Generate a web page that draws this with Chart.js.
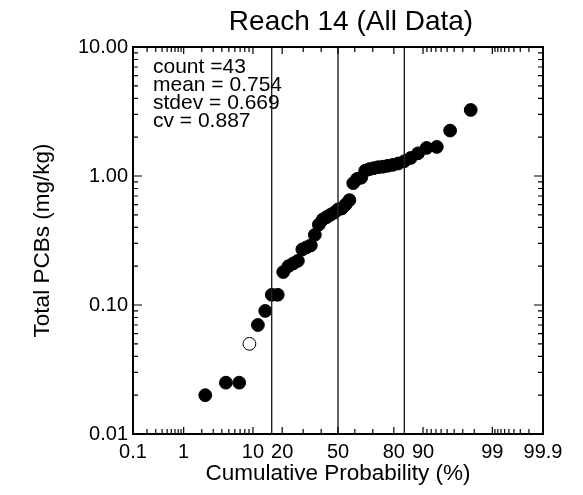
<!DOCTYPE html>
<html>
<head>
<meta charset="utf-8">
<script src="https://cdn.jsdelivr.net/npm/chart.js@4.4.1/dist/chart.umd.min.js"></script>
<style>
  body { margin: 0; background: #fff; }
  canvas { display: block; }
</style>
</head>
<body>
<canvas id="probChart" width="583" height="495"></canvas>
<script>
// plotting positions (%) for the 43 ranked samples
var cumProb = [2.27, 4.55, 6.82, 9.09, 11.36, 13.64, 15.91, 18.18, 20.45, 22.73,
    25.00, 27.27, 29.55, 31.82, 34.09, 36.36, 38.64, 40.91, 43.18, 45.45,
    47.73, 50.00, 52.27, 54.55, 56.82, 59.09, 61.36, 63.64, 65.91, 68.18,
    70.45, 72.73, 75.00, 77.27, 79.55, 81.82, 84.09, 86.36, 88.64, 90.91,
    93.18, 95.45, 97.73];
// total PCBs, mg/kg
var pcbs = [0.020, 0.025, 0.025, 0.050, 0.070, 0.090, 0.120, 0.120, 0.180, 0.200,
    0.210, 0.220, 0.270, 0.280, 0.290, 0.350, 0.420, 0.460, 0.480, 0.500,
    0.520, 0.550, 0.560, 0.600, 0.650, 0.880, 0.950, 0.970, 1.100, 1.130,
    1.150, 1.170, 1.180, 1.200, 1.220, 1.250, 1.300, 1.380, 1.500, 1.650,
    1.680, 2.250, 3.250];
// 1 = detected (filled), 0 = non-detect (open)
var detected = [1, 1, 1, 0, 1, 1, 1, 1, 1, 1, 1, 1, 1, 1, 1, 1, 1, 1, 1, 1, 1, 1,
    1, 1, 1, 1, 1, 1, 1, 1, 1, 1, 1, 1, 1, 1, 1, 1, 1, 1, 1, 1, 1];

var titleText = 'Reach 14 (All Data)';
var statLines = ['count =43', 'mean = 0.754', 'stdev = 0.669', 'cv = 0.887'];
var refLines = [15.87, 50, 84.13];

var xMajor = [0.1, 1, 10, 20, 50, 80, 90, 99, 99.9];
var xMinor = [0.2, 0.3, 0.4, 0.5, 0.6, 0.7, 0.8, 0.9, 2, 3, 4, 5, 6, 7, 8, 9,
    30, 40, 60, 70, 91, 92, 93, 94, 95, 96, 97, 98,
    99.1, 99.2, 99.3, 99.4, 99.5, 99.6, 99.7, 99.8];
var yMajor = [0.01, 0.1, 1, 10];
var yMinor = [0.02, 0.03, 0.04, 0.05, 0.06, 0.07, 0.08, 0.09,
    0.2, 0.3, 0.4, 0.5, 0.6, 0.7, 0.8, 0.9,
    2, 3, 4, 5, 6, 7, 8, 9];

// inverse normal cdf (Acklam)
function probit(p) {
    var a = [-3.969683028665376e+01, 2.209460984245205e+02, -2.759285104469687e+02,
        1.383577518672690e+02, -3.066479806614716e+01, 2.506628277459239e+00];
    var b = [-5.447609879822406e+01, 1.615858368580409e+02, -1.556989798598866e+02,
        6.680131188771972e+01, -1.328068155288572e+01];
    var c = [-7.784894002430293e-03, -3.223964580411365e-01, -2.400758277161838e+00,
        -2.549732539343734e+00, 4.374664141464968e+00, 2.938163982698783e+00];
    var d = [7.784695709041462e-03, 3.224671290700398e-01, 2.445134137142996e+00,
        3.754408661907416e+00];
    var q, r;
    if (p < 0.02425) {
        q = Math.sqrt(-2 * Math.log(p));
        return (((((c[0] * q + c[1]) * q + c[2]) * q + c[3]) * q + c[4]) * q + c[5]) /
            ((((d[0] * q + d[1]) * q + d[2]) * q + d[3]) * q + 1);
    }
    if (p > 1 - 0.02425) {
        q = Math.sqrt(-2 * Math.log(1 - p));
        return -(((((c[0] * q + c[1]) * q + c[2]) * q + c[3]) * q + c[4]) * q + c[5]) /
            ((((d[0] * q + d[1]) * q + d[2]) * q + d[3]) * q + 1);
    }
    q = p - 0.5;
    r = q * q;
    return (((((a[0] * r + a[1]) * r + a[2]) * r + a[3]) * r + a[4]) * r + a[5]) * q /
        (((((b[0] * r + b[1]) * r + b[2]) * r + b[3]) * r + b[4]) * r + 1);
}

// normal-probability axis, values in percent
class ProbitScale extends Chart.Scale {
    determineDataLimits() {
        this.min = this.options.min;
        this.max = this.options.max;
    }
    buildTicks() {
        return xMajor.map((v) => ({ value: v }));
    }
    configure() {
        super.configure();
        this._z0 = probit(this.min / 100);
        this._z1 = probit(this.max / 100);
    }
    getPixelForValue(v) {
        return this.getPixelForDecimal((probit(v / 100) - this._z0) / (this._z1 - this._z0));
    }
    getValueForPixel(px) {
        return null;
    }
    getLabelForValue(v) {
        return String(v);
    }
}
ProbitScale.id = 'probit';
ProbitScale.defaults = {};
Chart.register(ProbitScale);

const FONT = "'Liberation Sans', Arial, sans-serif";

const frameTicks = {
    id: 'frameTicks',
    afterDatasetsDraw(chart) {
        const ctx = chart.ctx;
        const a = chart.chartArea;
        const xs = chart.scales.x, ys = chart.scales.y;
        ctx.save();
        ctx.strokeStyle = '#000';
        ctx.lineWidth = 1.2;
        ctx.beginPath();
        const xt = (v, len) => {
            const px = xs.getPixelForValue(v);
            ctx.moveTo(px, a.bottom); ctx.lineTo(px, a.bottom - len);
            ctx.moveTo(px, a.top); ctx.lineTo(px, a.top + len);
        };
        const yt = (v, len) => {
            const py = ys.getPixelForValue(v);
            ctx.moveTo(a.left, py); ctx.lineTo(a.left + len, py);
            ctx.moveTo(a.right, py); ctx.lineTo(a.right - len, py);
        };
        xMajor.forEach((v) => xt(v, 7));
        xMinor.forEach((v) => xt(v, 5));
        yMajor.forEach((v) => yt(v, 9));
        yMinor.forEach((v) => yt(v, 5));
        ctx.stroke();
        ctx.lineWidth = 2;
        ctx.strokeRect(a.left, a.top, a.right - a.left, a.bottom - a.top);

        ctx.fillStyle = '#000';
        ctx.textBaseline = 'middle';
        ctx.textAlign = 'center';
        ctx.font = '28px ' + FONT;
        ctx.fillText(titleText, 351, 22);

        ctx.textAlign = 'left';
        ctx.font = '21px ' + FONT;
        statLines.forEach((s, i) => {
            ctx.fillText(s, a.left + 20, a.top + 20 + i * 18);
        });
        ctx.restore();
    }
};

const refData = refLines.map((p) => ({
    data: [{ x: p, y: 0.01 }, { x: p, y: 10 }],
    showLine: true,
    borderColor: '#222',
    borderWidth: 1.4,
    pointRadius: 0
}));

var ctx = document.getElementById('probChart').getContext('2d');
var probChart = new Chart(ctx, {
    type: 'scatter',
    data: {
        datasets: refData.concat([{
            data: cumProb.map((p, i) => ({ x: p, y: pcbs[i] })),
            pointRadius: 6.4,
            pointBorderWidth: 1,
            pointBorderColor: '#000',
            pointBackgroundColor: detected.map((d) => d ? '#000' : '#fff')
        }])
    },
    plugins: [frameTicks],
    options: {
        responsive: false,
        animation: false,
        layout: { padding: { left: 0, right: 40, top: 47, bottom: 0 } },
        plugins: {
            legend: false,
            tooltip: false,
            title: { display: false }
        },
        scales: {
            x: {
                type: 'probit',
                position: 'bottom',
                min: 0.1,
                max: 99.9,
                grid: { display: false, drawTicks: false },
                border: { display: false },
                ticks: {
                    autoSkip: false,
                    maxRotation: 0,
                    minRotation: 0,
                    padding: 6,
                    color: '#000',
                    font: { family: FONT, size: 20 }
                },
                title: {
                    display: true,
                    text: 'Cumulative Probability (%)',
                    color: '#000',
                    font: { family: FONT, size: 22.5 },
                    padding: { top: 0, bottom: 8 }
                },
                afterFit: (s) => { s.height = 61; }
            },
            y: {
                type: 'logarithmic',
                min: 0.01,
                max: 10,
                grid: { display: false, drawTicks: false },
                border: { display: false },
                afterBuildTicks: (s) => { s.ticks = yMajor.map((v) => ({ value: v })); },
                ticks: {
                    padding: 5,
                    color: '#000',
                    font: { family: FONT, size: 20 },
                    callback: (v) => Number(v).toFixed(2)
                },
                title: {
                    display: true,
                    text: 'Total PCBs (mg/kg)',
                    color: '#000',
                    font: { family: FONT, size: 22.5 },
                    padding: { top: 29, bottom: 0 }
                },
                afterFit: (s) => { s.width = 133; }
            }
        }
    }
});
</script>
</body>
</html>
